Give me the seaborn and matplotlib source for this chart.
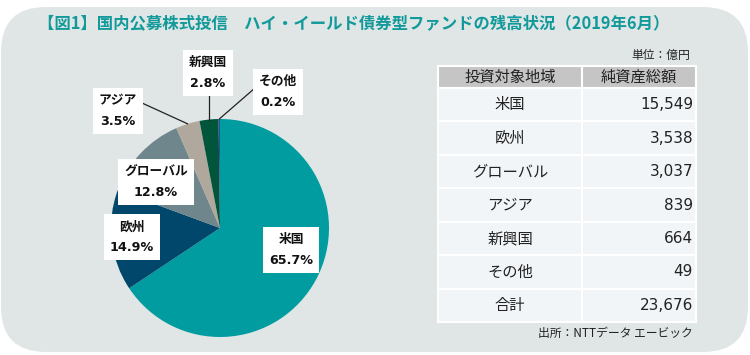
import matplotlib
matplotlib.use("Agg")
import matplotlib.pyplot as plt
import seaborn as sns
from matplotlib.patches import FancyBboxPatch, Rectangle
import numpy as np

# ---- data ----
regions = ["米国", "欧州", "グローバル", "アジア", "新興国", "その他"]
assets = [15549, 3538, 3037, 839, 664, 49]
total_label = "合計"
total_value = 23676
header = ["投資対象地域", "純資産総額"]
title = "【図1】国内公募株式投信　ハイ・イールド債券型ファンドの残高状況（2019年6月）"
unit_note = "単位：億円"
source_note = "出所：NTTデータ エービック"

# ---- style ----
colors = ["#009c9f", "#00476b", "#6e868c", "#b0a79d", "#00553a", "#2a4e9a"]
bg = "#e0e6e6"
teal = "#12999a"

sns.set_style("white")
plt.rcParams['font.family'] = ['DejaVu Sans', 'Noto Sans CJK JP']
CJK = ['Noto Sans CJK JP', 'DejaVu Sans']
LAT = ['DejaVu Sans']

W, H = 750, 355
fig = plt.figure(figsize=(W / 100, H / 100), dpi=100)
ax = fig.add_axes([0, 0, 1, 1])

def Y(y):
    return H - y

# background rounded panel
ax.add_patch(FancyBboxPatch((1, Y(352)), 747, 345,
                            boxstyle="round,pad=0,rounding_size=45",
                            fc=bg, ec="none", zorder=0))

# title
ax.text(354, Y(23), title, ha="center", va="center", fontsize=11.8,
        fontweight="bold", color=teal, family=CJK)

# pie
cx, cy, r = 220, Y(228), 109
wedges, _ = ax.pie(assets, colors=colors, startangle=90, counterclock=False,
                   center=(cx, cy), radius=r, frame=True,
                   wedgeprops=dict(linewidth=0))

total = sum(assets)
label_pos = [(291, 250), (132, 237), (156, 182), (118, 111), (208, 73), (278, 92)]
line_start = [None, None, None, (142, 103), (209, 93), (255, 88)]
for i, (name, v) in enumerate(zip(regions, assets)):
    w = wedges[i]
    if line_start[i] is not None:
        sx, sy = line_start[i]
        mid = np.deg2rad((w.theta1 + w.theta2) / 2)
        px, py = cx + r * np.cos(mid), cy + r * np.sin(mid)
        if i == 4:  # vertical leader onto the wedge rim
            px = sx
            py = cy + np.sqrt(r ** 2 - (px - cx) ** 2)
        ax.plot([sx, px], [Y(sy), py], color="#222222", lw=0.9, zorder=3)
    lx, ly = label_pos[i]
    ax.text(lx, Y(ly), f"{name}\n{v / total * 100:.1f}%", ha="center",
            va="center", fontsize=9.2, fontweight="bold", color="#111111",
            linespacing=1.75, zorder=5,
            bbox=dict(boxstyle="square,pad=0.48", fc="white", ec="none"))

# table
x0, x1, x2 = 438, 582, 696
hy0, hy1 = 66, 88
row_h = (322 - 88) / 7
ax.text(690, Y(55), unit_note, ha="right", va="center", fontsize=8.5,
        color="#222222", family=CJK)
for (a, b), txt in zip([(x0, x1), (x1, x2)], header):
    ax.add_patch(Rectangle((a, Y(hy1)), b - a, hy1 - hy0, fc="#c5c5c5",
                           ec="white", lw=1.5, zorder=2))
    ax.text((a + b) / 2, Y((hy0 + hy1) / 2), txt, ha="center", va="center",
            fontsize=11, color="#222222", family=CJK, zorder=3)

rows_lab = regions + [total_label]
rows_val = assets + [total_value]
for i, (lab, val) in enumerate(zip(rows_lab, rows_val)):
    top = hy1 + i * row_h
    for a, b in [(x0, x1), (x1, x2)]:
        ax.add_patch(Rectangle((a, Y(top + row_h)), b - a, row_h,
                               fc="#f1f5f8", ec="white", lw=1.5, zorder=2))
    yc = Y(top + row_h / 2)
    ax.text((x0 + x1) / 2, yc, lab, ha="center", va="center", fontsize=11,
            color="#222222", family=CJK, zorder=3)
    ax.text(x2 - 3, yc, f"{val:,}", ha="right", va="center", fontsize=11,
            color="#222222", family=LAT, zorder=3)

ax.text(693, Y(333), source_note, ha="right", va="center", fontsize=8.5,
        color="#222222", family=CJK)

ax.set_xlim(0, W)
ax.set_ylim(0, H)
ax.set_aspect("equal")
ax.axis("off")
fig.savefig("out.png", dpi=100, facecolor="white")
